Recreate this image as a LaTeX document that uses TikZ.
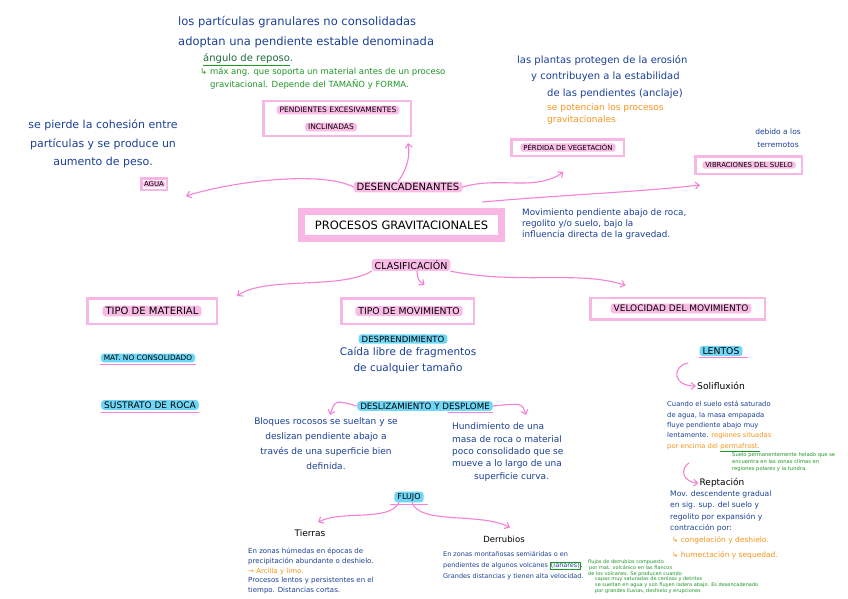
\documentclass[tikz,border=0pt]{standalone}
\usepackage{fontspec}
\setmainfont{DejaVu Sans}
\usetikzlibrary{arrows.meta}
\definecolor{ink}{RGB}{28,64,150}
\definecolor{grn}{RGB}{30,150,40}
\definecolor{dkgrn}{RGB}{35,105,60}
\definecolor{org}{RGB}{245,150,30}
\definecolor{pkbox}{RGB}{248,182,228}
\definecolor{pkhl}{RGB}{250,188,230}
\definecolor{pkarr}{RGB}{246,130,214}
\definecolor{cyhl}{RGB}{112,214,246}
\newcommand\myfs[2]{\fontsize{#1}{#2}\selectfont}
\begin{document}
\begin{tikzpicture}[x=1pt,y=-1pt,
  txt/.style={inner sep=0pt, text=ink, align=left, anchor=north west},
  pbox/.style={draw=pkbox, line width=2.5pt, fill=white, inner sep=0pt},
  phl/.style={fill=pkhl, rounded corners=3pt, inner xsep=3pt, inner ysep=1.5pt, text=black},
  chl/.style={fill=cyhl, rounded corners=3pt, inner xsep=3pt, inner ysep=1.5pt, text=black},
  lbl/.style={inner sep=1pt, text=black},
  parr/.style={draw=pkarr, line width=1.1pt, -{Straight Barb[length=4pt,width=7pt]}, line cap=round},
  uline/.style={draw=pkarr, line width=0.8pt, line cap=round}
]
\fill[white] (0,0) rectangle (848,599);
\useasboundingbox (0,0) rectangle (848,599);

% main box
\node[draw=pkbox, line width=7pt, fill=white, minimum width=200pt, minimum height=27pt, font=\myfs{11.5}{13}] (pg) at (401.5,225) {PROCESOS GRAVITACIONALES};

% desencadenantes
\node[phl, font=\myfs{10}{12}] (des) at (408,187) {DESENCADENANTES};

\node[pbox, minimum width=147.5pt, minimum height=34.5pt] (pend) at (337,118.5) {};
\node[phl, font=\myfs{7.5}{9}] (pend1) at (338,110) {PENDIENTES EXCESIVAMENTES};
\node[phl, font=\myfs{7.5}{9}] (pend2) at (331,127) {INCLINADAS};

\node[pbox, minimum width=25.5pt, minimum height=11.5pt] (agua) at (154,184) {};
\node[phl, font=\myfs{7}{8}, inner ysep=0.5pt, inner xsep=1pt] (agua1) at (154,184) {AGUA};

\node[pbox, minimum width=112.5pt, minimum height=16.5pt] (veg) at (567.5,147.5) {};
\node[phl, font=\myfs{6.9}{8}, inner ysep=1pt] (veg1) at (568,147.5) {PÉRDIDA DE VEGETACIÓN};

\node[pbox, minimum width=106.5pt, minimum height=17.5pt] (vib) at (748.5,165) {};
\node[phl, font=\myfs{6.9}{8}, inner ysep=1pt] (vib1) at (749,165) {VIBRACIONES DEL SUELO};

% clasificacion
\node[phl, font=\myfs{9.5}{11}] (cla) at (411,265) {CLASIFICACIÓN};

\node[pbox, minimum width=129.5pt, minimum height=25.5pt] (tmat) at (152,311) {};
\node[phl, font=\myfs{10}{12}] (tmat1) at (152,311) {TIPO DE MATERIAL};

\node[pbox, minimum width=132.5pt, minimum height=25.5pt] (tmov) at (407.5,311) {};
\node[phl, font=\myfs{9.3}{11}] (tmov1) at (409,311) {TIPO DE MOVIMIENTO};

\node[pbox, minimum width=174.5pt, minimum height=21.5pt] (vel) at (677.5,308.5) {};
\node[phl, font=\myfs{9}{11}] (vel1) at (681,308.5) {VELOCIDAD DEL MOVIMIENTO};

% cyan labels
\node[chl, font=\myfs{7.4}{9}] (mnc) at (148,358) {MAT. NO CONSOLIDADO};
\node[chl, font=\myfs{9}{11}] (sus) at (150,405) {SUSTRATO DE ROCA};
\node[chl, font=\myfs{8.5}{10}] (despr) at (403,339) {DESPRENDIMIENTO};
\node[chl, font=\myfs{8.7}{10}] (desl) at (425,406) {DESLIZAMIENTO Y DESPLOME};
\node[chl, font=\myfs{9.3}{11}] (lentos) at (721,351) {LENTOS};
\node[chl, font=\myfs{8}{10}] (flujo) at (409,497) {FLUJO};

% black labels
\node[lbl, font=\myfs{9.2}{11}] (soli) at (721,386) {Solifluxión};
\node[lbl, font=\myfs{9}{11}] (rept) at (722,483) {Reptación};
\node[lbl, font=\myfs{9}{11}] (tierras) at (310,533) {Tierras};
\node[lbl, font=\myfs{8.5}{10}] (derr) at (504,539) {Derrubios};

% text blocks
\node[txt, font=\myfs{11.5}{20}] (t1) at (178,16.6) {los partículas granulares no consolidadas\\adoptan una pendiente estable denominada};
\node[txt, anchor=west, text=dkgrn, font=\myfs{10}{12}] (ang) at (203,60) {{\color{grn}\underline{\textcolor{dkgrn}{ángulo de reposo}}}.};
\node[txt, text=grn, font=\myfs{8.5}{13}] (t2) at (200,68) {↳ máx ang. que soporta un material antes de un proceso\\\hspace*{10pt}gravitacional. Depende del TAMAÑO y FORMA.};
\node[txt, align=center, anchor=north, font=\myfs{11}{18.5}] (t3) at (103,119.8) {se pierde la cohesión entre\\partículas y se produce un\\aumento de peso.};
\node[txt, font=\myfs{10}{16.5}] (t4) at (517,55.3) {las plantas protegen de la erosión\\\hspace*{14pt}y contribuyen a la estabilidad\\\hspace*{30pt}de las pendientes (anclaje)};
\node[txt, text=org, font=\myfs{9}{12}] (t5) at (547,103.8) {se potencian los procesos\\gravitacionales};
\node[txt, align=center, anchor=north, font=\myfs{7.5}{13}] (t6) at (778,128.5) {debido a los\\terremotos};
\node[txt, font=\myfs{8.8}{11}] (t7) at (522,208.9) {Movimiento pendiente abajo de roca,\\regolito y/o suelo, bajo la\\influencia directa de la gravedad.};
\node[txt, align=center, anchor=north, font=\myfs{10.5}{16}] (t8) at (408,347) {Caída libre de fragmentos\\de cualquier tamaño};
\node[txt, align=center, anchor=north, font=\myfs{9}{15}] (t9) at (326,417.8) {Bloques rocosos se sueltan y se\\deslizan pendiente abajo a\\través de una superficie bien\\definida.};
\node[txt, font=\myfs{9}{12.3}] (t10) at (452,422.8) {Hundimiento de una\\masa de roca o material\\poco consolidado que se\\mueve a lo largo de una\\\hspace*{22pt}superficie curva.};
\node[txt, font=\myfs{7}{9.8}] (t11) at (248,547.7) {En zonas húmedas en épocas de\\precipitación abundante o deshielo.\\\textcolor{org}{→ Arcilla y limo.}\\Procesos lentos y persistentes en el\\tiempo. Distancias cortas.};
\node[txt, font=\myfs{6.5}{11}] (t12) at (443,551.5) {En zonas montañosas semiáridas o en\\pendientes de algunos volcanes {\fboxsep=0.5pt\fcolorbox{grn}{white}{(lahares)}}.\\Grandes distancias y tienen alta velocidad.};
\node[txt, text=grn, font=\myfs{5}{5.7}] (t13) at (588,559.6) {flujos de derrubios compuesto\\\hspace*{1pt}por mat. volcánico en las flancos\\de los volcanes. Se producen cuando\\\hspace*{7pt}capas muy saturadas de cenizas y detritos\\\hspace*{7pt}se sueltan en agua y son fluyen ladera abajo. Es desencadenado\\\hspace*{7pt}por grandes lluvias, deshielo y erupciones};
\node[txt, text=grn, font=\myfs{5.2}{7}] (t14) at (732,452) {Suelo permanentemente helado que se\\encuentra en las zonas climas en\\regiones polares y la tundra.};
\node[txt, font=\myfs{6.8}{10.3}] (t15) at (667,401.3) {Cuando el suelo está saturado\\de agua, la masa empapada\\fluye pendiente abajo muy\\lentamente. \textcolor{org}{regiones situadas}\\\textcolor{org}{por encima del} {\color{grn}\underline{\textcolor{org}{permafrost.}}}};
\node[txt, font=\myfs{7.6}{11.5}] (t16) at (670,490.4) {Mov. descendente gradual\\en sig. sup. del suelo y\\regolito por expansión y\\contracción por:};
\node[txt, text=org, font=\myfs{7.5}{15}] (t17) at (672,536.5) {↳ congelación y deshielo.\\↳ humectación y sequedad.};

% connectors
\draw[parr] (des.west) .. controls (320,170) and (230,182) .. ([xshift=18pt,yshift=-5pt]agua.south east);
\draw[parr] ([xshift=-10pt]des.north) .. controls (408,168) and (410,155) .. ([xshift=-4pt,yshift=-6pt]pend.south east);
\draw[parr] (des.east) .. controls (500,176) and (535,192) .. ([xshift=-4pt,yshift=-15pt]veg.south);
\draw[parr] ([xshift=20pt,yshift=-15pt]des.east) .. controls (560,195) and (640,192) .. ([xshift=6pt,yshift=-10pt]vib.south west);

\draw[parr] (cla.south west) .. controls (340,290) and (265,276) .. ([xshift=19pt,yshift=1pt]tmat.north east);
\draw[parr] ([xshift=6pt]cla.south) .. controls (418,280) .. ([xshift=17pt,yshift=12pt]tmov.north);
\draw[parr] (cla.south east) .. controls (520,285) and (580,270) .. ([xshift=-52pt,yshift=11pt]vel.north);

\coordinate (dl) at (330,415);
\coordinate (dr) at (526,415);
\draw[parr] (desl.west) .. controls (335,400) .. (dl);
\draw[parr] (desl.east) .. controls (522,403) .. (dr);

\draw[parr] ([xshift=-10pt]flujo.south) .. controls (390,522) and (340,510) .. ([xshift=8pt,yshift=6pt]tierras.north);
\draw[parr] ([xshift=3pt]flujo.south) .. controls (420,525) and (480,512) .. ([xshift=6pt,yshift=7pt]derr.north);

\coordinate (s1) at (688,363);
\draw[parr] (s1) .. controls (672,366) and (672,386) .. (soli.west);
\coordinate (r1) at (689,463);
\draw[parr] (r1) .. controls (680,468) and (682,482) .. (rept.west);

% underlines
\draw[uline] ([yshift=-2pt]mnc.south west) -- ([yshift=-2pt]mnc.south east);
\draw[uline] ([yshift=-2pt]sus.south west) -- ([yshift=-2pt]sus.south east);
\draw[uline] ([xshift=-45pt,yshift=-1.5pt]desl.south east) -- ([yshift=-1.5pt]desl.south east);
\draw[uline] ([yshift=-1.5pt]lentos.south west) -- ([xshift=5pt,yshift=-1.5pt]lentos.south east);
\draw[uline] ([xshift=-4pt,yshift=-1.5pt]flujo.south west) -- ([xshift=4pt,yshift=-1.5pt]flujo.south east);
\end{tikzpicture}
\end{document}
